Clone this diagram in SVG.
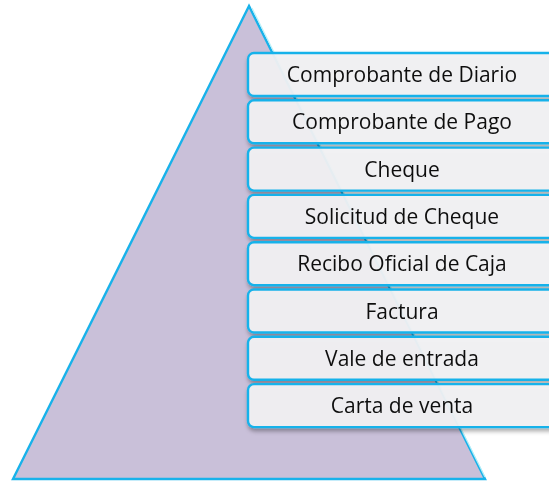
<svg xmlns="http://www.w3.org/2000/svg" width="549" height="482" viewBox="0 0 549 482">
<style>
.box{fill:#f2f2f4;fill-opacity:0.93;stroke:#18b2ea;stroke-width:2.4}
.lbl{font-family:"Open Sans","Noto Sans",sans-serif;font-size:21px;fill:#111;text-anchor:middle}
</style>
<defs>
<filter id="sh" x="-10%" y="-30%" width="130%" height="180%">
<feDropShadow dx="1" dy="3" stdDeviation="2" flood-color="#000" flood-opacity="0.35"/>
</filter>
</defs>
<g id="pyramid">
<polygon points="249,6 13,479 485,479" fill="#c9c0d9" stroke="#18b2ea" stroke-width="2.4" stroke-linejoin="miter"/>
<line x1="252" y1="8" x2="485" y2="477" stroke="#b8f0f8" stroke-width="1.2"/>
</g>
<g id="n1" filter="url(#sh)"><rect class="box" x="248" y="53" width="312" height="43" rx="6"/><text class="lbl" x="402" y="82">Comprobante de Diario</text></g>
<g id="n2" filter="url(#sh)"><rect class="box" x="248" y="100.3" width="312" height="43" rx="6"/><text class="lbl" x="402" y="129.3">Comprobante de Pago</text></g>
<g id="n3" filter="url(#sh)"><rect class="box" x="248" y="147.6" width="312" height="43" rx="6"/><text class="lbl" x="402" y="176.6">Cheque</text></g>
<g id="n4" filter="url(#sh)"><rect class="box" x="248" y="194.9" width="312" height="43" rx="6"/><text class="lbl" x="402" y="223.9">Solicitud de Cheque</text></g>
<g id="n5" filter="url(#sh)"><rect class="box" x="248" y="242.2" width="312" height="43" rx="6"/><text class="lbl" x="402" y="271.2">Recibo Oficial de Caja</text></g>
<g id="n6" filter="url(#sh)"><rect class="box" x="248" y="289.5" width="312" height="43" rx="6"/><text class="lbl" x="402" y="318.5">Factura</text></g>
<g id="n7" filter="url(#sh)"><rect class="box" x="248" y="336.8" width="312" height="43" rx="6"/><text class="lbl" x="402" y="365.8">Vale de entrada</text></g>
<g id="n8" filter="url(#sh)"><rect class="box" x="248" y="384.1" width="312" height="43" rx="6"/><text class="lbl" x="402" y="413.1">Carta de venta</text></g>
<g id="connectors"></g>
</svg>
